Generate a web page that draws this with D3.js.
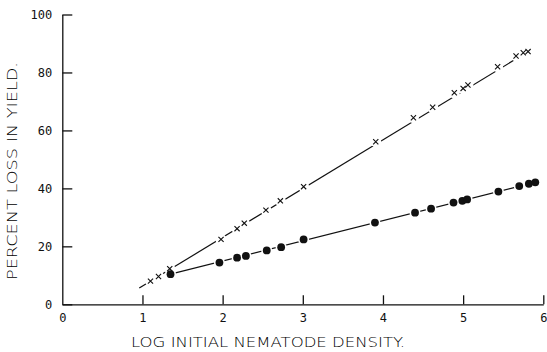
<!DOCTYPE html>
<html>
<head>
<meta charset="utf-8">
<script src="https://cdn.jsdelivr.net/npm/d3@7"></script>
<style>
  html, body { margin: 0; padding: 0; background: #fff; }
  svg { display: block; }
  .tick text { font-family: "DejaVu Sans Mono", monospace; font-size: 12px; fill: #111; }
  .tick line, .domain { stroke: #111; stroke-width: 1.3; }
  .title { font-family: "DejaVu Sans", sans-serif; font-weight: 200; font-size: 14.5px; fill: #000; }
</style>
</head>
<body>
<svg id="chart" width="547" height="352"></svg>
<script>
// log initial nematode density vs percent loss, crosses series
const crossX = [1.10, 1.20, 1.34, 1.98, 2.18, 2.27, 2.54, 2.72, 3.01, 3.91, 4.38, 4.62, 4.89, 5.00, 5.06, 5.43, 5.66, 5.75, 5.81];
const crossY = [8.0, 9.6, 12.3, 22.4, 26.1, 28.0, 32.5, 35.7, 40.6, 56.1, 64.4, 68.0, 73.0, 74.5, 75.7, 82.0, 85.7, 86.8, 87.2];
// dots series
const dotX = [1.35, 1.96, 2.18, 2.29, 2.55, 2.73, 3.01, 3.90, 4.40, 4.60, 4.88, 4.99, 5.05, 5.44, 5.70, 5.82, 5.90];
const dotY = [10.4, 14.4, 16.1, 16.7, 18.6, 19.7, 22.4, 28.2, 31.6, 33.0, 35.1, 35.7, 36.2, 38.9, 40.8, 41.6, 42.1];
// fitted lines (start / end points)
const crossFitX = [0.96, 5.81];
const crossFitY = [5.6, 87.2];
const dotFitX = [1.35, 5.90];
const dotFitY = [10.4, 42.1];

const xTicks = [0, 1, 2, 3, 4, 5, 6];
const yTicks = [0, 20, 40, 60, 80, 100];
const xTitle = "LOG INITIAL NEMATODE DENSITY.";
const yTitle = "PERCENT LOSS IN YIELD.";

const svg = d3.select('#chart');
const x = d3.scaleLinear().domain([0, 6]).range([62.3, 543.3]);
const y = d3.scaleLinear().domain([0, 100]).range([304.3, 14.5]);

svg.append('g')
   .attr('transform', `translate(0,${y(0)})`)
   .call(d3.axisBottom(x).tickValues(xTicks).tickSizeInner(-9).tickSizeOuter(0).tickPadding(9).tickFormat(d3.format('d')))
   .call(g => g.selectAll('.tick').filter(d => d === 0).select('line').remove());

svg.append('g')
   .attr('transform', `translate(${x(0)},0)`)
   .call(d3.axisLeft(y).tickValues(yTicks).tickSizeInner(-10).tickSizeOuter(0).tickPadding(10).tickFormat(d3.format('d')));

svg.selectAll('.domain').attr('fill', 'none');

const line = d3.line().x(d => x(d[0])).y(d => y(d[1]));

svg.append('path')
   .datum(d3.zip(crossFitX, crossFitY))
   .attr('d', line)
   .attr('fill', 'none')
   .attr('stroke', '#111')
   .attr('stroke-width', 1.2);

svg.append('path')
   .datum(d3.zip(dotFitX, dotFitY))
   .attr('d', line)
   .attr('fill', 'none')
   .attr('stroke', '#111')
   .attr('stroke-width', 1.2);

const crosses = d3.zip(crossX, crossY);
const dots = d3.zip(dotX, dotY);

// white gaps in the lines around each marker
svg.append('g').selectAll('circle')
   .data(crosses.concat(dots))
   .enter()
   .append('circle')
   .attr('cx', d => x(d[0]))
   .attr('cy', d => y(d[1]))
   .attr('r', 5.5)
   .attr('fill', '#fff');

svg.append('g').selectAll('path')
   .data(crosses)
   .enter()
   .append('path')
   .attr('d', d => {
     const cx = x(d[0]), cy = y(d[1]), s = 2.6;
     return `M${cx - s},${cy - s}L${cx + s},${cy + s}M${cx - s},${cy + s}L${cx + s},${cy - s}`;
   })
   .attr('stroke', '#111')
   .attr('stroke-width', 1.1);

svg.append('g').selectAll('circle')
   .data(dots)
   .enter()
   .append('circle')
   .attr('cx', d => x(d[0]))
   .attr('cy', d => y(d[1]))
   .attr('r', 3.9)
   .attr('fill', '#111');

svg.append('text')
   .attr('class', 'title')
   .attr('x', 131)
   .attr('y', 347)
   .attr('textLength', 274)
   .attr('lengthAdjust', 'spacingAndGlyphs')
   .text(xTitle);

svg.append('text')
   .attr('class', 'title')
   .attr('transform', 'translate(17,280) rotate(-90)')
   .attr('textLength', 218)
   .attr('lengthAdjust', 'spacingAndGlyphs')
   .text(yTitle);
</script>
</body>
</html>
